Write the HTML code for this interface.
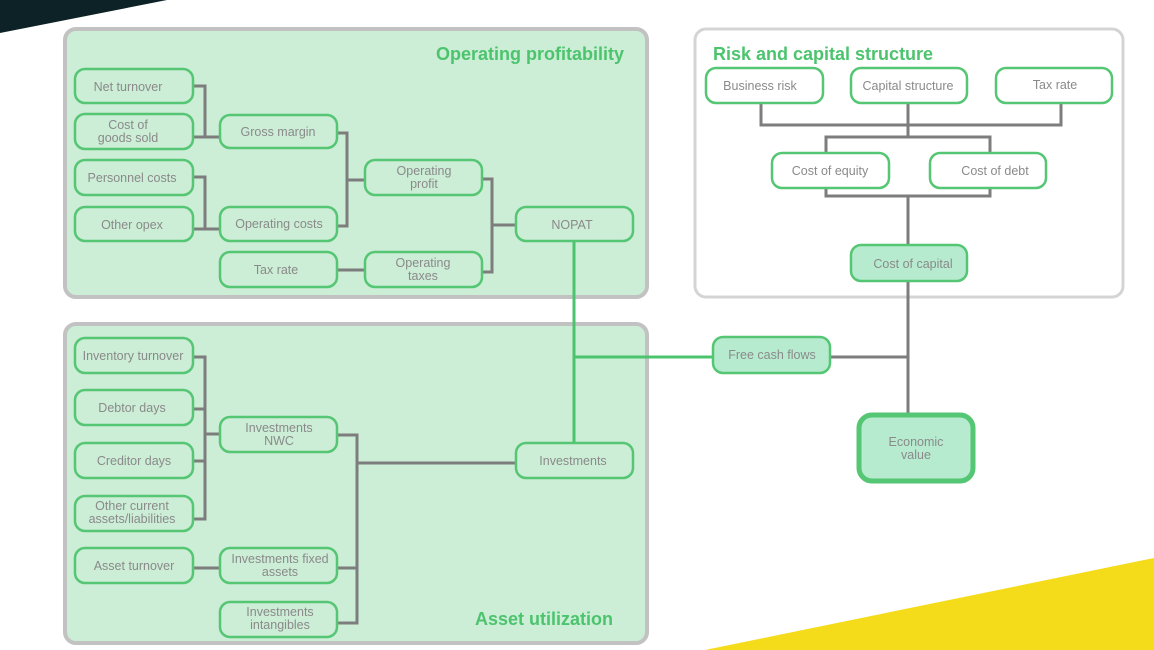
<!DOCTYPE html>
<html><head><meta charset="utf-8"><style>
html,body{margin:0;padding:0;background:#fff;}
svg{display:block;}
text{font-family:"Liberation Sans",sans-serif;font-size:12.5px;fill:#8a8a8a;text-anchor:middle;}
.t{font-weight:bold;font-size:18px;fill:#4cc46e;}
.n{fill:none;stroke:#55c673;stroke-width:2.5;}
.nf{fill:#b7ebcf;stroke:#55c673;stroke-width:2.5;}
.g{fill:none;stroke:#7d7d7d;stroke-width:3;}
.gr{fill:none;stroke:#4cc46e;stroke-width:3;}
</style></head><body>
<svg width="1154" height="650" viewBox="0 0 1154 650">
<polygon points="0,0 167,0 0,33" fill="#0d2226"/>
<polygon points="705,650 1154,558 1154,650" fill="#f5dc1b"/>
<!-- panels -->
<rect x="65" y="29" width="582" height="268" rx="11" fill="#ccedd6" stroke="#c2c2c2" stroke-width="4"/>
<rect x="65" y="324" width="582" height="319" rx="11" fill="#ccedd6" stroke="#c2c2c2" stroke-width="4"/>
<rect x="695" y="29" width="428" height="268" rx="11" fill="#fff" stroke="#d4d4d4" stroke-width="3"/>
<text class="t" x="530" y="60">Operating profitability</text>
<text class="t" x="544" y="625">Asset utilization</text>
<text class="t" x="819" y="60" style="text-anchor:start" dx="-106">Risk and capital structure</text>
<!-- connectors operating -->
<path class="g" d="M193,86H205V137H220M193,137H205M193,177H205V229H220M193,229H205M337,133H347V226H337M347,180H365M482,179H492V272H482M492,225H516M337,270H365"/>
<!-- connectors asset -->
<path class="g" d="M193,357H205V519H193M193,409H205M193,461H205M205,434H220M337,435H357V623H337M357,568H337M357,463H516M193,568H220"/>
<!-- green -->
<path class="gr" d="M574,241V443M574,357H713"/>
<!-- risk connectors -->
<path class="g" d="M761,103V125H1061V103M908,103V137M826,153V137H990V153M826,188V196H990V188M908,196V245M908,281V413M830,357H908"/>
<!-- op nodes -->
<rect class="n" x="75" y="69" width="118" height="34" rx="10"/><text x="128" y="91">Net turnover</text>
<rect class="n" x="75" y="114" width="118" height="35" rx="10"/><text x="128" y="129">Cost of</text><text x="128" y="142">goods sold</text>
<rect class="n" x="75" y="160" width="118" height="35" rx="10"/><text x="132" y="182">Personnel costs</text>
<rect class="n" x="75" y="207" width="118" height="34" rx="10"/><text x="132" y="229">Other opex</text>
<rect class="n" x="220" y="115" width="117" height="33" rx="10"/><text x="278" y="136">Gross margin</text>
<rect class="n" x="220" y="207" width="117" height="34" rx="10"/><text x="279" y="228">Operating costs</text>
<rect class="n" x="220" y="252" width="117" height="35" rx="10"/><text x="276" y="274">Tax rate</text>
<rect class="n" x="365" y="160" width="117" height="35" rx="10"/><text x="424" y="175">Operating</text><text x="424" y="188">profit</text>
<rect class="n" x="365" y="252" width="117" height="35" rx="10"/><text x="423" y="267">Operating</text><text x="423" y="280">taxes</text>
<rect class="n" x="516" y="207" width="117" height="34" rx="10"/><text x="572" y="229">NOPAT</text>
<!-- asset nodes -->
<rect class="n" x="75" y="338" width="118" height="35" rx="10"/><text x="133" y="360">Inventory turnover</text>
<rect class="n" x="75" y="390" width="118" height="35" rx="10"/><text x="132" y="412">Debtor days</text>
<rect class="n" x="75" y="443" width="118" height="35" rx="10"/><text x="134" y="465">Creditor days</text>
<rect class="n" x="75" y="496" width="118" height="35" rx="10"/><text x="132" y="510">Other current</text><text x="132" y="523">assets/liabilities</text>
<rect class="n" x="75" y="548" width="118" height="35" rx="10"/><text x="134" y="570">Asset turnover</text>
<rect class="n" x="220" y="417" width="117" height="35" rx="10"/><text x="279" y="432">Investments</text><text x="279" y="445">NWC</text>
<rect class="n" x="220" y="548" width="117" height="35" rx="10"/><text x="280" y="563">Investments fixed</text><text x="280" y="576">assets</text>
<rect class="n" x="220" y="602" width="117" height="35" rx="10"/><text x="280" y="616">Investments</text><text x="280" y="629">intangibles</text>
<rect class="n" x="516" y="443" width="117" height="35" rx="10"/><text x="573" y="465">Investments</text>
<!-- risk nodes -->
<rect class="n" x="706" y="68" width="117" height="35" rx="10" fill="#fff"/><text x="760" y="90">Business risk</text>
<rect class="n" x="851" y="68" width="116" height="35" rx="10" fill="#fff"/><text x="908" y="90">Capital structure</text>
<rect class="n" x="996" y="68" width="116" height="35" rx="10" fill="#fff"/><text x="1055" y="89">Tax rate</text>
<rect class="n" x="772" y="153" width="117" height="35" rx="10" fill="#fff"/><text x="830" y="175">Cost of equity</text>
<rect class="n" x="930" y="153" width="116" height="35" rx="10" fill="#fff"/><text x="995" y="175">Cost of debt</text>
<rect class="nf" x="851" y="245" width="116" height="36" rx="10"/><text x="913" y="268">Cost of capital</text>
<rect class="nf" x="713" y="337" width="117" height="36" rx="10"/><text x="772" y="359">Free cash flows</text>
<rect class="nf" x="859" y="415" width="114" height="66" rx="13" style="stroke-width:5"/><text x="916" y="446">Economic</text><text x="916" y="459">value</text>
</svg>
</body></html>
